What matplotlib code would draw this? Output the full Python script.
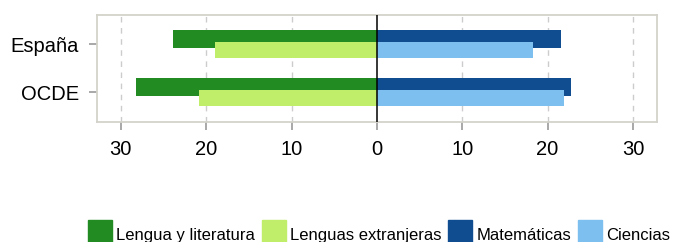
import matplotlib
matplotlib.use("Agg")
import matplotlib.pyplot as plt
import numpy as np
from matplotlib.patches import Patch

plt.rcParams["font.family"] = ["Liberation Sans", "DejaVu Sans"]

categories = ["España", "OCDE"]
lengua = [23.9, 28.2]
extranjeras = [19.0, 20.8]
matematicas = [21.6, 22.8]
ciencias = [18.3, 21.9]
ticks = [-30, -20, -10, 0, 10, 20, 30]
series_names = ["Lengua y literatura", "Lenguas extranjeras", "Matemáticas", "Ciencias"]
colors = ["#228b22", "#c0ee6a", "#104d90", "#7dbfee"]

fig = plt.figure(figsize=(6.73, 2.42), dpi=100)
ax = fig.add_axes([0.144, 0.496, 0.832, 0.442])

y = np.arange(len(categories))
ax.barh(y - 0.107, -np.array(lengua), height=0.37, color=colors[0], zorder=2)
ax.barh(y + 0.12, -np.array(extranjeras), height=0.33, color=colors[1], zorder=3)
ax.barh(y - 0.107, matematicas, height=0.37, color=colors[2], zorder=2)
ax.barh(y + 0.12, ciencias, height=0.33, color=colors[3], zorder=3)
ax.axvline(0, color="black", lw=1.1, zorder=4)

ax.set_xlim(-32.8, 32.8)
ax.set_ylim(1.61, -0.6)
ax.set_xticks(ticks)
ax.set_xticklabels([str(abs(t)) for t in ticks])
ax.set_yticks(y)
ax.set_yticklabels(categories)
for t in ticks:
    if t != 0:
        ax.axvline(t, color="#cccccc", lw=1, ls=(0, (4, 4)), zorder=1)

for s in ax.spines.values():
    s.set_color("#d3d3cb")
    s.set_linewidth(1.3)
ax.tick_params(axis="both", colors="#999999", labelcolor="black",
               labelsize=14.5, length=6, width=1.2)
ax.tick_params(axis="x", pad=7)
ax.tick_params(axis="y", pad=7)

handles = [Patch(color=c) for c in colors]
fig.legend(handles, series_names, loc="upper left", bbox_to_anchor=(88 / 673, 1 - 220 / 242),
           ncol=4, frameon=False, fontsize=12, handlelength=1.44, handleheight=2.4,
           handletextpad=0.25, columnspacing=0.4, borderaxespad=0, borderpad=0)

fig.savefig("out.png", dpi=100)
